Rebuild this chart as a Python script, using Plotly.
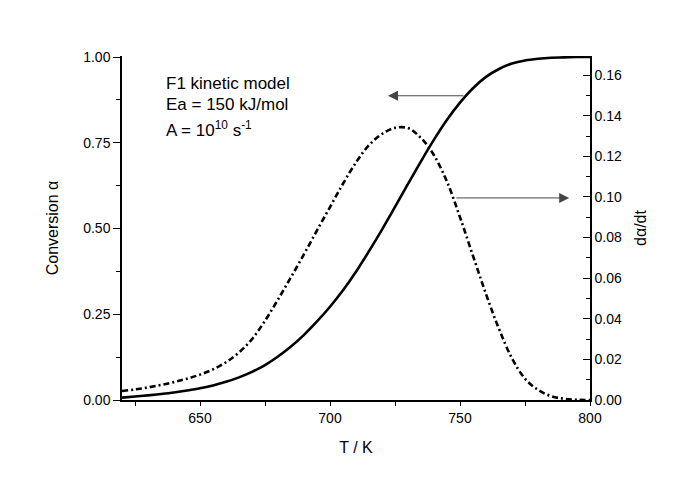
import plotly.graph_objects as go

# Temperature (K)
T = [620, 625, 630, 635, 640, 645, 650, 655, 660, 665, 670, 675, 680, 685, 690,
     695, 700, 705, 710, 715, 720, 725, 730, 735, 740, 745, 750, 755, 760,
     765, 770, 775, 780, 785, 790, 795, 800]

# Conversion alpha (left axis)
alpha = [0.007, 0.010, 0.0135, 0.0175, 0.022, 0.0275, 0.034, 0.0425, 0.053, 0.066,
         0.082, 0.102, 0.127, 0.156, 0.190, 0.229, 0.272, 0.320, 0.374, 0.434,
         0.497, 0.563, 0.630, 0.696, 0.759, 0.817, 0.867, 0.909, 0.942,
         0.965, 0.981, 0.990, 0.995, 0.998, 0.999, 1.0, 1.0]

# Rate d(alpha)/dt (right axis)
rate = [0.0044, 0.0052, 0.0062, 0.0074, 0.0088, 0.0105, 0.0125, 0.0151, 0.0186,
        0.0234, 0.0300, 0.0390, 0.0495, 0.0605, 0.0718, 0.0835, 0.0950, 0.1065,
        0.1170, 0.1255, 0.1310, 0.1340, 0.1339, 0.1290, 0.1205, 0.1075,
        0.0900, 0.0710, 0.0522, 0.0350, 0.0205, 0.0105, 0.0050, 0.0019, 0.0006,
        0.0001, 0.0]

x_ticks = [650, 700, 750, 800]
left_ticks = [0.0, 0.25, 0.5, 0.75, 1.0]
right_ticks = [0.0, 0.02, 0.04, 0.06, 0.08, 0.10, 0.12, 0.14, 0.16]

FONT = "Liberation Sans, Arial, sans-serif"

fig = go.Figure()
fig.add_trace(go.Scatter(x=T, y=alpha, mode="lines", yaxis="y",
                         line=dict(color="black", width=2.6, shape="spline", smoothing=1.0),
                         showlegend=False))
fig.add_trace(go.Scatter(x=T, y=rate, mode="lines", yaxis="y2",
                         line=dict(color="black", width=2.6, shape="spline", smoothing=1.0,
                                   dash="6px,3px,2px,3px"),
                         showlegend=False))

# page body adds an 8px offset, so margins are shifted by 8px
fig.update_layout(
    width=685, height=481,
    paper_bgcolor="white", plot_bgcolor="white",
    margin=dict(l=114, r=103, t=48, b=89),
    font=dict(family=FONT, size=14, color="black"),
    xaxis=dict(range=[620, 800], tickvals=x_ticks, ticks="outside", ticklen=4,
               tickwidth=1.2, tickcolor="black", automargin=False,
               showline=True, linecolor="black", linewidth=1.5,
               showgrid=False, zeroline=False,
               minor=dict(tickvals=[625, 675, 725, 775], ticks="outside", ticklen=4,
                          tickwidth=1.2, tickcolor="black", showgrid=False),
               title=dict(text="T / K", font=dict(size=16), standoff=17),
               tickfont=dict(size=14)),
    yaxis=dict(range=[0, 1.003], tickvals=left_ticks, tickformat=".2f",
               ticks="outside", ticklen=7, tickwidth=1.2, tickcolor="black",
               automargin=False,
               showline=True, linecolor="black", linewidth=1.5,
               showgrid=False, zeroline=False,
               minor=dict(tickvals=[0.125, 0.375, 0.625, 0.875], ticks="outside",
                          ticklen=4, tickwidth=1.2, tickcolor="black", showgrid=False),
               title=dict(text="Conversion α", font=dict(size=16), standoff=21),
               tickfont=dict(size=14)),
    yaxis2=dict(range=[0, 0.1694], overlaying="y", side="right", anchor="x",
                tickvals=right_ticks, tickformat=".2f", automargin=False,
                ticks="inside", ticklen=7, tickwidth=1.2, tickcolor="black",
                showline=True, linecolor="black", linewidth=1.5,
                showgrid=False, zeroline=False,
                minor=dict(tickvals=[0.01, 0.03, 0.05, 0.07, 0.09, 0.11, 0.13, 0.15],
                           ticks="inside", ticklen=4, tickwidth=1.2, tickcolor="black",
                           showgrid=False),
                title=dict(text="dα/dt", font=dict(size=16), standoff=14),
                tickfont=dict(size=14)),
)

# Text block
lines = [("F1 kinetic model", 83), ("Ea = 150 kJ/mol", 104),
         ("A = 10<sup>10</sup> s<sup>-1</sup>", 129)]
for txt, ypx in lines:
    fig.add_annotation(text=txt, xref="paper", yref="paper",
                       x=(164 - 122) / 468, y=(400 - ypx) / 344,
                       xanchor="left", yanchor="middle", showarrow=False,
                       font=dict(size=17, family=FONT, color="black"))

# Arrows
fig.add_annotation(x=722.3, y=0.887, xref="x", yref="y",
                   ax=751.9, ay=0.887, axref="x", ayref="y",
                   text="", showarrow=True, arrowhead=2, arrowsize=2,
                   arrowwidth=1, arrowcolor="#444444", standoff=0, startstandoff=0)
fig.add_annotation(x=792, y=0.0995, xref="x", yref="y2",
                   ax=748, ay=0.0995, axref="x", ayref="y2",
                   text="", showarrow=True, arrowhead=2, arrowsize=2,
                   arrowwidth=1, arrowcolor="#444444", standoff=0, startstandoff=0)

fig.write_html("out.html")
